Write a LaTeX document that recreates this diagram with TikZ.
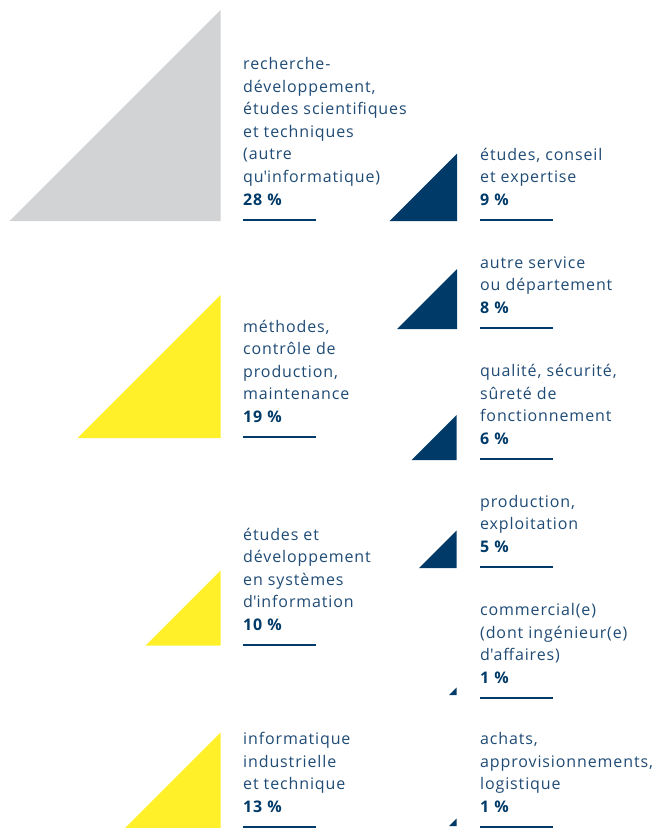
\documentclass[tikz,border=0pt]{standalone}
\usepackage{fontspec}
\setmainfont[LetterSpace=5.5]{Open Sans}
\definecolor{navy}{HTML}{003A68}
\definecolor{txt}{HTML}{1F4B75}
\definecolor{yel}{HTML}{FFF02A}
\definecolor{gry}{HTML}{D1D3D4}
\newcommand\tri[4]{\fill[#1] (#2-#4,#3) -- (#2,#3) -- (#2,#3-#4) -- cycle;}
\newcommand\uline[3]{\draw[uline] (#1,#3) -- (#2,#3);}
\newcommand\pct[1]{\hbox{\color{navy}\bfseries #1}}
\begin{document}
\begin{tikzpicture}[x=1pt,y=-1pt,
  lab/.style={anchor=base west,inner sep=0pt,text=txt,font=\fontsize{16}{22.6}\selectfont},
  uline/.style={draw=navy,line width=2.5pt}]
\useasboundingbox (0,0) rectangle (656,828);
% triangles
\tri{gry}{220.5}{221}{211}
\tri{navy}{457}{221}{67.5}
\tri{navy}{457}{329}{60}
\tri{yel}{220.5}{438}{143}
\tri{navy}{456.5}{460}{45}
\tri{navy}{456.5}{568}{37.5}
\tri{yel}{220.5}{645.5}{75}
\tri{navy}{456.5}{695}{7.5}
\tri{yel}{220.5}{830.5}{98}
\tri{navy}{456.5}{826}{7.5}
% labels
\node[lab] (l28) at (243,69.5) {\vtop{\baselineskip=22.6pt\hbox{recherche-}\hbox{développement,}\hbox{études scientifiques}\hbox{et techniques}\hbox{(autre}\hbox{qu\textquotesingle informatique)}\pct{28 \%}}};
\node[lab] (l9) at (480,160.3) {\vtop{\baselineskip=22.6pt\hbox{études, conseil}\hbox{et expertise}\pct{9 \%}}};
\node[lab] (l8) at (480,268.3) {\vtop{\baselineskip=22.6pt\hbox{autre service}\hbox{ou département}\pct{8 \%}}};
\node[lab] (l19) at (243,332.1) {\vtop{\baselineskip=22.6pt\hbox{méthodes,}\hbox{contrôle de}\hbox{production,}\hbox{maintenance}\pct{19 \%}}};
\node[lab] (l6) at (480,376.7) {\vtop{\baselineskip=22.6pt\hbox{qualité, sécurité,}\hbox{sûreté de}\hbox{fonctionnement}\pct{6 \%}}};
\node[lab] (l5) at (480,507.3) {\vtop{\baselineskip=22.6pt\hbox{production,}\hbox{exploitation}\pct{5 \%}}};
\node[lab] (l10) at (243,540.1) {\vtop{\baselineskip=22.6pt\hbox{études et}\hbox{développement}\hbox{en systèmes}\hbox{d\textquotesingle information}\pct{10 \%}}};
\node[lab] (l1a) at (480,615.7) {\vtop{\baselineskip=22.6pt\hbox{commercial(e)}\hbox{(dont ingénieur(e)}\hbox{d\textquotesingle affaires)}\pct{1 \%}}};
\node[lab] (l13) at (243,744.7) {\vtop{\baselineskip=22.6pt\hbox{informatique}\hbox{industrielle}\hbox{et technique}\pct{13 \%}}};
\node[lab] (l1b) at (480,744.7) {\vtop{\baselineskip=22.6pt\hbox{achats,}\hbox{approvisionnements,}\hbox{logistique}\pct{1 \%}}};
% underlines
\uline{243}{316}{220}
\uline{480}{553}{220}
\uline{480}{553}{328}
\uline{243}{316}{437}
\uline{480}{553}{459}
\uline{480}{553}{567}
\uline{243}{316}{645}
\uline{480}{553}{698}
\uline{243}{316}{827}
\uline{480}{553}{827}
\end{tikzpicture}
\end{document}
